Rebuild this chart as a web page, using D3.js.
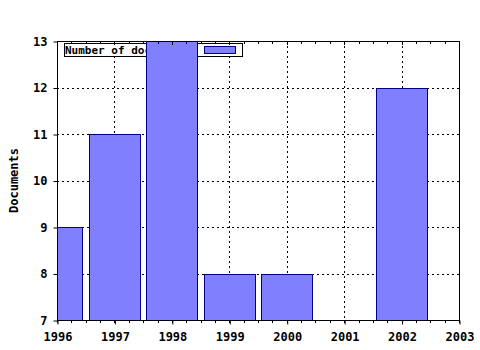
<!DOCTYPE html>
<html>
<head>
<meta charset="utf-8">
<script src="https://cdn.jsdelivr.net/npm/d3@7"></script>
<style>
  body { margin: 0; background: #fff; }
  text { font-family: "DejaVu Sans Mono", monospace; font-weight: bold; font-size: 12px; }
  .legend text { font-size: 11px; }
</style>
</head>
<body>
<script>
// Chart data
const years = [1996, 1997, 1998, 1999, 2000, 2002];
const docs = [9, 11, 13, 8, 8, 12];
const yTicks = [7, 8, 9, 10, 11, 12, 13];
const xTicks = [1996, 1997, 1998, 1999, 2000, 2001, 2002, 2003];
const seriesName = "Number of documents";

const w = 480, h = 350;
const padL = 57, padR = 459, padT = 41, padB = 320;

const svg = d3.select("body").append("svg").attr("width", w).attr("height", h);

const x = d3.scaleLinear().domain([1996, 2003]).range([padL, padR]);
const y = d3.scaleLinear().domain([7, 13]).range([padB, padT]);

// clip path for plot area
svg.append("clipPath").attr("id", "plot")
  .append("rect").attr("x", padL).attr("y", padT).attr("width", padR - padL).attr("height", padB - padT);

// dotted grid
const grid = svg.append("g").attr("stroke", "#000").attr("stroke-dasharray", "2,3").attr("shape-rendering", "crispEdges");
grid.selectAll(".gx").data(xTicks.slice(1, -1)).enter().append("line")
  .attr("x1", d => Math.round(x(d)) + 0.5).attr("x2", d => Math.round(x(d)) + 0.5).attr("y1", padT).attr("y2", padB);
grid.selectAll(".gy").data(yTicks.slice(1, -1)).enter().append("line")
  .attr("x1", padL).attr("x2", padR).attr("y1", d => Math.round(y(d)) + 0.5).attr("y2", d => Math.round(y(d)) + 0.5);

// legend (sits under the bars)
const lg = svg.append("g").attr("class", "legend");
lg.append("rect").attr("x", 64.5).attr("y", 43.5).attr("width", 178).attr("height", 13)
  .attr("fill", "#fff").attr("stroke", "#000");
lg.append("text").attr("x", 65).attr("y", 54).text(seriesName);
lg.append("rect").attr("x", 204.5).attr("y", 46.5).attr("width", 31).attr("height", 7)
  .attr("fill", "#8080ff").attr("stroke", "#00008b");

// bars
const bw = (x(1997) - x(1996)) * 0.895;
svg.append("g").attr("clip-path", "url(#plot)")
  .selectAll("rect").data(years).enter().append("rect")
  .attr("x", d => Math.round(x(d) - bw / 2) + 0.5)
  .attr("y", (d, i) => Math.round(y(docs[i])) + 0.5)
  .attr("width", Math.round(bw))
  .attr("height", (d, i) => Math.round(y(7) - y(docs[i])))
  .attr("fill", "#8080ff")
  .attr("stroke", "#00008b");

// frame
svg.append("rect").attr("x", padL + 0.5).attr("y", padT + 0.5)
  .attr("width", padR - padL).attr("height", padB - padT)
  .attr("fill", "none").attr("stroke", "#000");

// x axis (bottom) with minor ticks
const xMinor = d3.range(0, 7 * 4 + 1).map(i => 1996 + i / 4);
const xAxis = d3.axisBottom(x).tickValues(xTicks).tickFormat(d3.format("d")).tickSize(4).tickPadding(8);
const gx = svg.append("g").attr("transform", `translate(0.5,${padB + 0.5})`).call(xAxis);
gx.select(".domain").remove();
gx.selectAll("text").attr("font-family", null).attr("font-size", null);
svg.append("g").selectAll("line").data(xMinor).enter().append("line")
  .attr("x1", d => Math.round(x(d)) + 0.5).attr("x2", d => Math.round(x(d)) + 0.5)
  .attr("y1", padB).attr("y2", padB + 3).attr("stroke", "#000");
// top axis ticks pointing inward
svg.append("g").selectAll("line").data(xMinor).enter().append("line")
  .attr("x1", d => Math.round(x(d)) + 0.5).attr("x2", d => Math.round(x(d)) + 0.5)
  .attr("y1", padT).attr("y2", (d, i) => padT + (i % 4 === 0 ? 4 : 3)).attr("stroke", "#000");

// y axis
const yAxis = d3.axisLeft(y).tickValues(yTicks).tickFormat(d3.format("d")).tickSize(4).tickPadding(6);
const gy = svg.append("g").attr("transform", `translate(${padL + 0.5},0.5)`).call(yAxis);
gy.select(".domain").remove();
gy.selectAll("text").attr("font-family", null).attr("font-size", null);

// y title
svg.append("text")
  .attr("transform", `translate(18,${(padT + padB) / 2}) rotate(-90)`)
  .attr("text-anchor", "middle")
  .text("Documents");
</script>
</body>
</html>
